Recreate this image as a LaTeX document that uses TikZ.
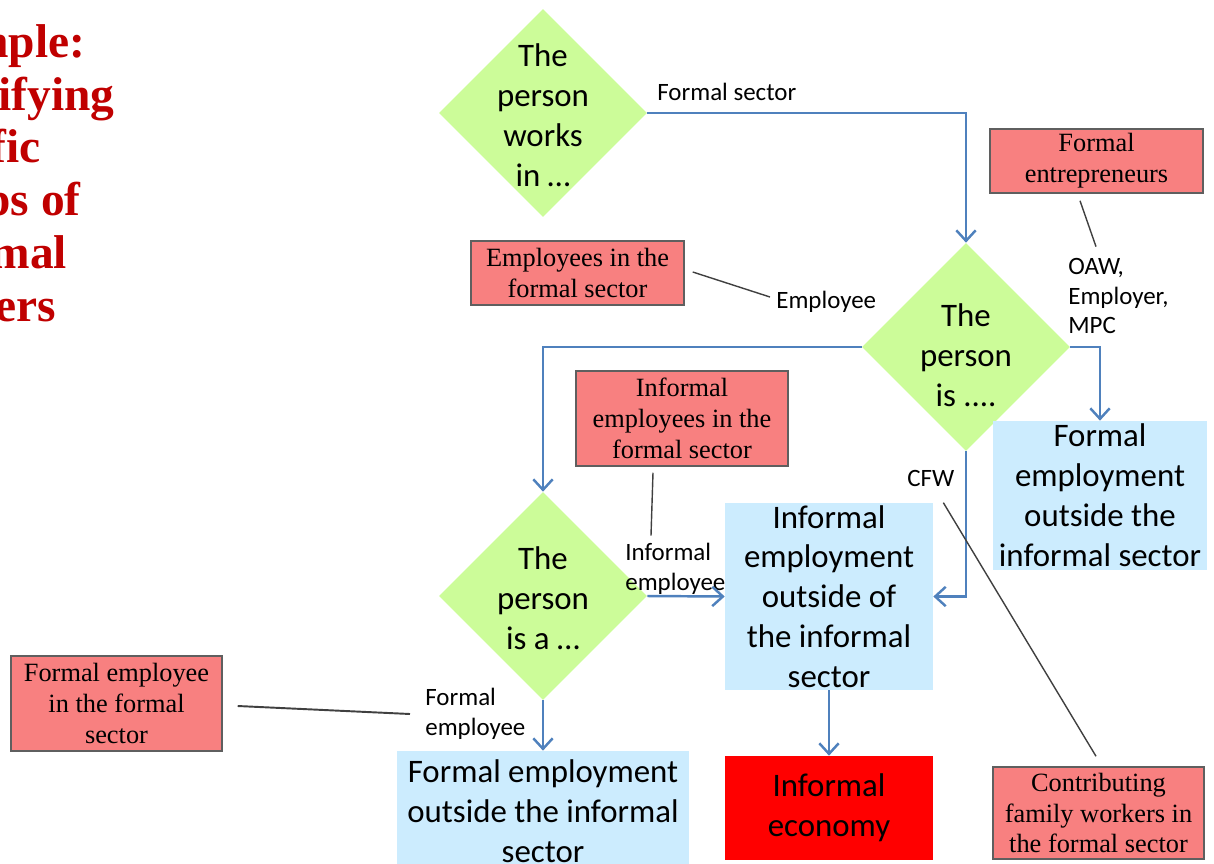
\documentclass[tikz,border=0pt]{standalone}
\usepackage{fontspec}
\setmainfont{Liberation Serif}
\newfontfamily\calib{Carlito}
\usetikzlibrary{shapes.geometric,arrows.meta}
\definecolor{leaf}{RGB}{204,252,153}
\definecolor{sky}{RGB}{204,236,254}
\definecolor{salmon}{RGB}{248,128,128}
\definecolor{edge}{RGB}{95,95,95}
\definecolor{flowblue}{RGB}{79,129,189}
\definecolor{heading}{RGB}{192,0,0}
\tikzstyle{decision}=[diamond, aspect=1, fill=leaf, minimum width=4.16cm, minimum height=4.16cm, inner sep=0pt]
\tikzstyle{bigtext}=[font=\calib\fontsize{18.7}{22.7}\selectfont, align=center, inner sep=0pt]
\tikzstyle{cell}=[bigtext, fill=sky]
\tikzstyle{group}=[draw=edge, fill=salmon, line width=0.85pt, font=\fontsize{15}{17.5}\selectfont, align=center, inner sep=0pt]
\tikzstyle{answer}=[font=\calib\fontsize{14.2}{17}\selectfont, align=left, inner sep=0pt, anchor=west]
\tikzstyle{flow}=[draw=flowblue, line width=1.4pt, -{Straight Barb[length=6pt,width=11pt]}]
\tikzstyle{link}=[draw=black!75, line width=0.8pt]
\newcommand{\question}[4][0]{
  \node[decision] (#2) at #3 {};
  \node[bigtext] at ([shift={(0,#1)}]#2.center) {#4}
 }

\begin{document}
\begin{tikzpicture}[x=0.02cm, y=-0.02cm]
       \useasboundingbox (0,0) rectangle (1214,863);
       \clip (0,0) rectangle (1214,863);
       \node[anchor=west, align=left, text=heading, font=\bfseries\fontsize{27}{30}\selectfont, inner sep=0pt] (title) at (-110,173) {Example:\\Identifying\\specific\\groups of\\informal\\workers};
       % questions
       \question[2]{works}{(543,113)}{The\\person\\works\\in …};
       \question[8]{role}{(966,347)}{The\\person\\is ....};
       \question[2]{kind}{(543,596)}{The\\person\\is a …};
       % outcomes
       \node[cell, minimum width=4.28cm, minimum height=2.98cm] (fout) at (1100,495.5) {Formal\\employment\\outside the\\informal sector};
       \node[cell, minimum width=4.16cm, minimum height=3.74cm] (iout) at (829,596.5) {Informal\\employment\\outside of\\the informal\\sector};
       \node[cell, minimum width=5.84cm, minimum height=2.42cm] (fbot) at (543,811.5) {Formal employment\\outside the informal\\sector};
       \node[cell, fill=red, minimum width=4.16cm, minimum height=2.08cm] (ieco) at (829,808) {Informal\\economy};
       % groups
       \node[group, minimum width=4.26cm, minimum height=1.28cm] (gent) at (1096.5,161) {Formal\\entrepreneurs};
       \node[group, minimum width=4.26cm, minimum height=1.28cm] (gemp) at (577.5,273) {Employees in the\\formal sector};
       \node[group, minimum width=4.24cm, minimum height=1.9cm] (ginf) at (682,418.5) {Informal\\employees in the\\formal sector};
       \node[group, minimum width=4.22cm, minimum height=1.9cm] (gfor) at (116.5,703.5) {Formal employee\\in the formal\\sector};
       \node[group, minimum width=4.22cm, minimum height=1.84cm] (gcfw) at (1098.5,813) {Contributing\\family workers in\\the formal sector};
       % answers
       \node[answer] (aform) at (657,92) {Formal sector};
       \node[answer] (aemp) at (776,302) {Employee};
       \node[answer] (aown) at (1068,296) {OAW,\\Employer,\\MPC};
       \node[answer] (acfw) at (907,478) {CFW};
       \node[answer] (ainf) at (625,569) {Informal\\employee};
       \node[answer] (afor) at (425,713.5) {Formal\\employee};
       % arrows
       \draw[flow] (works.east) -| (role.north);
       \draw[flow] (role.east) -| (fout.north);
       \draw[flow] (role.west) -| (kind.north);
       \draw[flow] (kind.east) -- (iout.west);
       \draw[flow] (role.south) |- (iout.east);
       \draw[flow] (iout.south) -- (ieco.north);
       \draw[flow] (kind.south) -- (fbot.north);
       % links
       \draw[link] ([shift={(8,-1)}]gemp.east) -- ([shift={(-6,-5)}]aemp.west);
       \draw[link] ([shift={(-16.5,7)}]gent.south) -- ([shift={(28,-11)}]aown.north west);
       \draw[link] ([shift={(-29,6)}]ginf.south) -- ([shift={(26,-7.5)}]ainf.north west);
       \draw[link, line width=1.1pt] ([shift={(15,2.5)}]gfor.east) -- ([shift={(-15,0.5)}]afor.west);
       \draw[link] ([shift={(10,0)}]iout.north east) -- ([shift={(-2.5,-10)}]gcfw.north);
     \end{tikzpicture}
\end{document}
